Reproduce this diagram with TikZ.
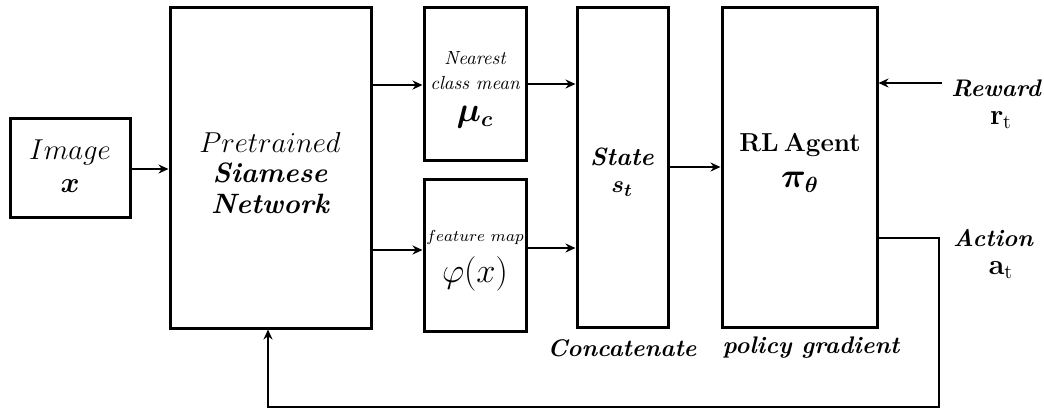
\documentclass[tikz,border=0pt]{standalone}
\usepackage{amsmath}
\usepackage{bm}
\usetikzlibrary{arrows.meta}
\begin{document}
\begin{tikzpicture}[x=0.5pt,y=-0.5pt,
  every node/.style={inner sep=0pt},
  box/.style={draw, line width=1.5pt, rectangle, inner sep=0pt, align=center},
  arr/.style={line width=1pt, -{Stealth[length=5pt,width=4.5pt]}},
  big/.style={font=\fontsize{14}{15}\selectfont},
  small/.style={font=\fontsize{9.5}{11}\selectfont},
  lbl/.style={font=\fontsize{12}{14}\selectfont\bfseries\itshape, align=center},
  sub/.style={font=\fontsize{14}{15}\selectfont}]
\useasboundingbox (0,0) rectangle (1044,409);
% boxes
\node[box, minimum width=60pt, minimum height=49.5pt] (img) at (70,167.5) {};
\node[box, minimum width=100.5pt, minimum height=160.5pt] (sia) at (270.5,167.5) {};
\node[box, minimum width=51pt, minimum height=76.5pt] (ncm) at (475,83.5) {};
\node[box, minimum width=51pt, minimum height=76pt] (fm) at (475,255) {};
\node[box, minimum width=45.5pt, minimum height=160pt] (st) at (622.5,167) {};
\node[box, minimum width=77.5pt, minimum height=160pt] (rl) at (799.5,167) {};
% box texts
\node[big] (timg) at (70,152) {$Image$};
\node[big] (timgx) at (70,186) {$\bm{x}$};
\node[big] (tsia1) at (270,142) {$Pretrained$};
\node[big] (tsia2) at (270,173) {\bfseries\itshape Siamese};
\node[big] (tsia3) at (270,204) {\bfseries\itshape Network};
\node[small] (tncm1) at (475,58) {\itshape Nearest};
\node[small] (tncm2) at (475,83) {\itshape class mean};
\node[font=\fontsize{16}{18}\selectfont] (tncm3) at (475,117) {$\bm{\mu_{c}}$};
\node[font=\fontsize{8.3}{10}\selectfont] (tfm1) at (475,237) {$feature\ map$};
\node[font=\fontsize{17}{18}\selectfont] (tfm2) at (475,274) {$\varphi(x)$};
\node[font=\fontsize{12.5}{14}\selectfont\bfseries\itshape] (tst1) at (622,157) {State};
\node[font=\fontsize{13}{14}\selectfont] (tst2) at (622,189) {$\bm{s_t}$};
\node[font=\fontsize{13}{15}\selectfont\bfseries] (trl1) at (800,145) {RL\hspace{0.2em}Agent};
\node[font=\fontsize{16}{18}\selectfont] (trl2) at (800,182) {$\bm{\pi_{\theta}}$};
% outside labels
\node[lbl] (trew) at (996,88) {Reward};
\node[sub] (trt) at (1001,120) {$\mathbf{r}_{\mathrm{t}}$};
\node[lbl] (tact) at (993,238) {Action};
\node[sub] (tat) at (1001,270) {$\mathbf{a}_{\mathrm{t}}$};
\node[lbl] (tcon) at (622,348) {Concatenate};
\node[lbl] (tpg) at (811,348) {policy gradient};
% connectors
\coordinate (rw) at (942,83);
\coordinate (a1) at (939,238);
\coordinate (a2) at (939,407);
\coordinate (a3) at (268,407);
\draw[arr] ([yshift=-0.75pt]img.east) -- ([yshift=-0.75pt]img.east -| sia.west);
\draw[arr] ([yshift=-0.75pt]sia.east |- ncm.west) -- ([yshift=-0.75pt]ncm.west);
\draw[arr] ([yshift=2.5pt]sia.east |- fm.west) -- ([yshift=2.5pt]fm.west);
\draw[arr] ([yshift=-0.25pt]ncm.east) -- ([yshift=-0.25pt]ncm.east -| st.west);
\draw[arr] ([yshift=3.5pt]fm.east) -- ([yshift=3.5pt]fm.east -| st.west);
\draw[arr] (st.east) -- (rl.west);
\draw[arr] (rw) -- (rw -| rl.east);
\draw[arr] (a1 -| rl.east) -- (a1) -- (a2) -- (a3) -- (a3 |- sia.south);
\end{tikzpicture}
\end{document}
